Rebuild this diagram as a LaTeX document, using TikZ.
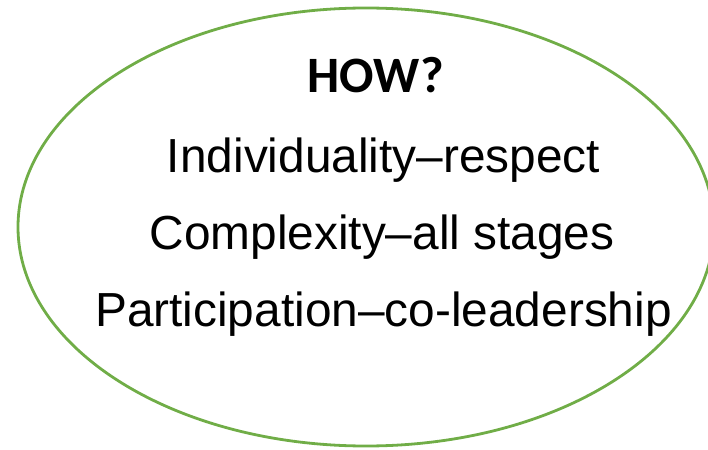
\documentclass[tikz,border=0pt]{standalone}
\usepackage{fontspec}
\setmainfont{Liberation Sans}
\newfontfamily\calibrifont{Carlito}
\definecolor{ellgreen}{HTML}{70AD47}
\tikzset{
  howtext/.style={anchor=base, inner sep=0pt, font=\calibrifont\bfseries\fontsize{51}{60}\selectfont},
  bodytext/.style={anchor=base, inner sep=0pt, font=\fontsize{47.8}{56}\selectfont},
  ellline/.style={draw=ellgreen, line width=2.8pt}
}
\begin{document}
\begin{tikzpicture}[x=1pt,y=-1pt]
\useasboundingbox (0,0) rectangle (708,449);
\draw[ellline] (366,227) ellipse [x radius=348, y radius=219];
\node[howtext] (how) at (375.5,93) {HOW?};
\node[bodytext] (l1) at (383.5,172) {Individuality–respect};
\node[bodytext] (l2) at (382,249) {Complexity–all stages};
\node[bodytext] (l3) at (383.5,326) {Participation–co-leadership};
\end{tikzpicture}
\end{document}
